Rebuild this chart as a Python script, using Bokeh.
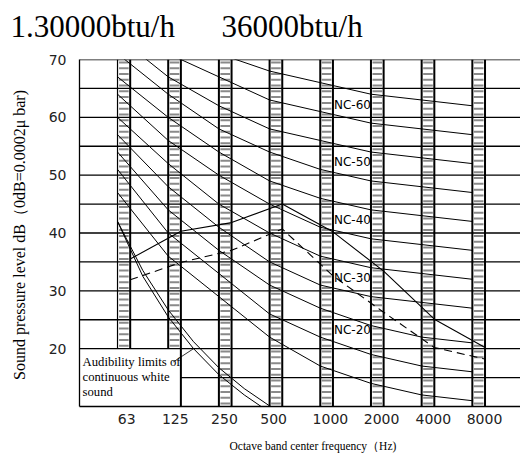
from bokeh.plotting import figure
from bokeh.models import Range1d, FixedTicker, Title
from bokeh.core.properties import value
from bokeh.embed import file_html
from bokeh.resources import INLINE

# ---------------- data ----------------
freq_labels = ["63", "125", "250", "500", "1000", "2000", "4000", "8000"]
band_idx = [0, 1, 2, 3, 4, 5, 6, 7]
tick_pos = [0.18, 1.14, 2.11, 3.08, 4.20, 5.21, 6.23, 7.24]

nc_names = ["NC-15", "NC-20", "NC-25", "NC-30", "NC-35", "NC-40",
            "NC-45", "NC-50", "NC-55", "NC-60", "NC-65"]
nc15 = [47, 36, 29, 22, 17, 14, 12, 11]
nc20 = [51, 40, 33, 26, 22, 19, 17, 16]
nc25 = [54, 44, 37, 31, 27, 24, 22, 21]
nc30 = [57, 48, 41, 35, 31, 29, 28, 27]
nc35 = [60, 52, 45, 40, 36, 34, 33, 32]
nc40 = [64, 56, 50, 45, 41, 39, 38, 37]
nc45 = [67, 60, 54, 49, 46, 44, 43, 42]
nc50 = [71, 64, 58, 54, 51, 49, 48, 47]
nc55 = [74, 67, 62, 58, 56, 54, 53, 52]
nc60 = [77, 71, 67, 63, 61, 59, 58, 57]
nc65 = [80, 75, 71, 68, 66, 64, 63, 62]
nc_curves = [nc15, nc20, nc25, nc30, nc35, nc40, nc45, nc50, nc55, nc60, nc65]
nc_labelled = ["NC-20", "NC-30", "NC-40", "NC-50", "NC-60"]

unit_30000 = [35.5, 40.3, 41.8, 45.0, 40.2, 33.4, 25.1, 20.2]   # solid
unit_36000 = [31.9, 34.9, 37.0, 40.7, 32.6, 26.3, 20.2, 18.2]   # dashed

aud_x = [0, 0.5, 1, 1.5, 2, 2.5, 3]
aud_lo = [42, 32.5, 25.5, 20.0, 15.5, 12.0, 9.0]
aud_hi = [42, 33.5, 26.7, 21.2, 16.7, 13.1, 10.1]
aud_text = ["Audibility limits of", "continuous white", "sound"]

y_ticks = [20, 30, 40, 50, 60, 70]
grid_levels = [15, 20, 25, 30, 35, 40, 45, 50, 55, 60, 65, 70]

title_text = "1.30000btu/h" + "\u00a0" * 6 + "36000btu/h"
x_title = "Octave band center frequency\uff08Hz)"
y_title = "Sound pressure level dB\uff080dB=0.0002\u03bc  bar)"

# ---------------- layout constants ----------------
X0, X1 = -0.75, 7.95
Y0, Y1 = 10, 70
BW = 0.25          # band width (octave units)
BOX_TOP = 20       # the audibility text box occupies below this level

p = figure(width=520, height=464, x_range=Range1d(X0, X1), y_range=Range1d(Y0, Y1),
           output_backend="svg", toolbar_location=None,
           min_border_left=79, min_border_right=0, min_border_top=58, min_border_bottom=58)
p.outline_line_color = None
p.xgrid.visible = False
p.ygrid.visible = False
p.background_fill_color = "white"
p.border_fill_color = "white"
p.title = None

# spacer panel right above the frame, then the main title further out
p.add_layout(Title(text=" ", text_font_size="5px", standoff=0), "above")
p.add_layout(Title(text=title_text, text_font="Liberation Serif", text_font_size="31px",
                   text_font_style="normal", text_color="black", align="left",
                   offset=-69, vertical_align="middle", standoff=14), "above")

# ---------------- bands ----------------
box_right = band_idx[1] + BW
left_bottom = [BOX_TOP if i <= 1 else Y0 for i in band_idx]
right_bottom = [BOX_TOP if i == 0 else Y0 for i in band_idx]

hx0, hx1, hy = [], [], []
for i in band_idx:
    k = left_bottom[i]
    while k < Y1:
        hx0.append(i + 0.03)
        hx1.append(i + BW - 0.03)
        hy.append(k + 0.5)
        k += 1
p.segment(x0=hx0, y0=hy, x1=hx1, y1=hy, line_color="#8a8a8a", line_width=2)

p.segment(x0=band_idx, y0=left_bottom, x1=band_idx, y1=[Y1] * 8,
          line_color="black", line_width=[1.2] + [2] * 7)
rx = [i + BW for i in band_idx]
p.segment(x0=rx, y0=right_bottom, x1=rx, y1=[Y1] * 8, line_color="black", line_width=2)

# horizontal grid lines
gx0 = [box_right if g < BOX_TOP else X0 for g in grid_levels]
p.segment(x0=gx0, y0=grid_levels, x1=[X1] * len(grid_levels), y1=grid_levels,
          line_color="black", line_width=1.3)

# ---------------- curves ----------------
for c in nc_curves:
    p.line(band_idx, c, line_color="black", line_width=1)

ux = [i + BW for i in band_idx]
p.line(ux, unit_30000, line_color="black", line_width=1.1)
p.line(ux, unit_36000, line_color="black", line_width=1.1, line_dash="8 5")

p.line(aud_x, aud_lo, line_color="black", line_width=1)
p.line(aud_x, aud_hi, line_color="black", line_width=1)

# NC labels
lab_x, lab_y, lab_t = [], [], []
for name, c in zip(nc_names, nc_curves):
    if name in nc_labelled:
        lab_x.append(band_idx[4] + BW + 0.02)
        lab_y.append(c[4])
        lab_t.append(name)
p.text(x=lab_x, y=lab_y, text=lab_t, text_font=value("DejaVu Sans"), text_font_size="12px",
       text_baseline="bottom", text_align="left", text_color="black")

# audibility text box
tx = [X0 + 0.06] * 3
ty = [BOX_TOP - 2.3 - 2.6 * k for k in range(3)]
p.text(x=tx, y=ty, text=aud_text, text_font=value("Liberation Serif"), text_font_size="12.7px",
       text_baseline="middle", text_align="left", text_color="black")
# leader line from the text to the curve
p.line([X0 + 1.85, aud_x[3]], [ty[0], aud_lo[3]], line_color="black", line_width=0.8)

# ---------------- axes ----------------
p.xaxis.ticker = FixedTicker(ticks=tick_pos)
p.xaxis.major_label_overrides = {t: l for t, l in zip(tick_pos, freq_labels)}
p.yaxis.ticker = FixedTicker(ticks=y_ticks)
for ax in (p.xaxis, p.yaxis):
    ax.major_tick_line_color = None
    ax.minor_tick_line_color = None
    ax.major_tick_out = 0
    ax.major_tick_in = 0
    ax.axis_line_color = "black"
    ax.axis_line_width = 1.3
    ax.major_label_text_font = "DejaVu Sans"
    ax.major_label_text_font_size = "14px"
    ax.major_label_text_color = "#222222"
    ax.axis_label_text_font = "Liberation Serif"
    ax.axis_label_text_font_style = "normal"
    ax.axis_label_text_color = "black"

p.xaxis.major_label_standoff = 7

# x-axis title, placed (as in the reference) a little right of the frame centre
p.add_layout(Title(text=x_title, align="left", offset=150, standoff=22,
                   text_font="Liberation Serif", text_font_size="11.5px",
                   text_font_style="normal", text_color="black"), "below")

p.yaxis.axis_label = y_title
p.yaxis.axis_label_text_font_size = "16px"
p.yaxis.major_label_standoff = 13
p.yaxis.axis_label_standoff = 18

open("out.html", "w").write(file_html(p, INLINE))
